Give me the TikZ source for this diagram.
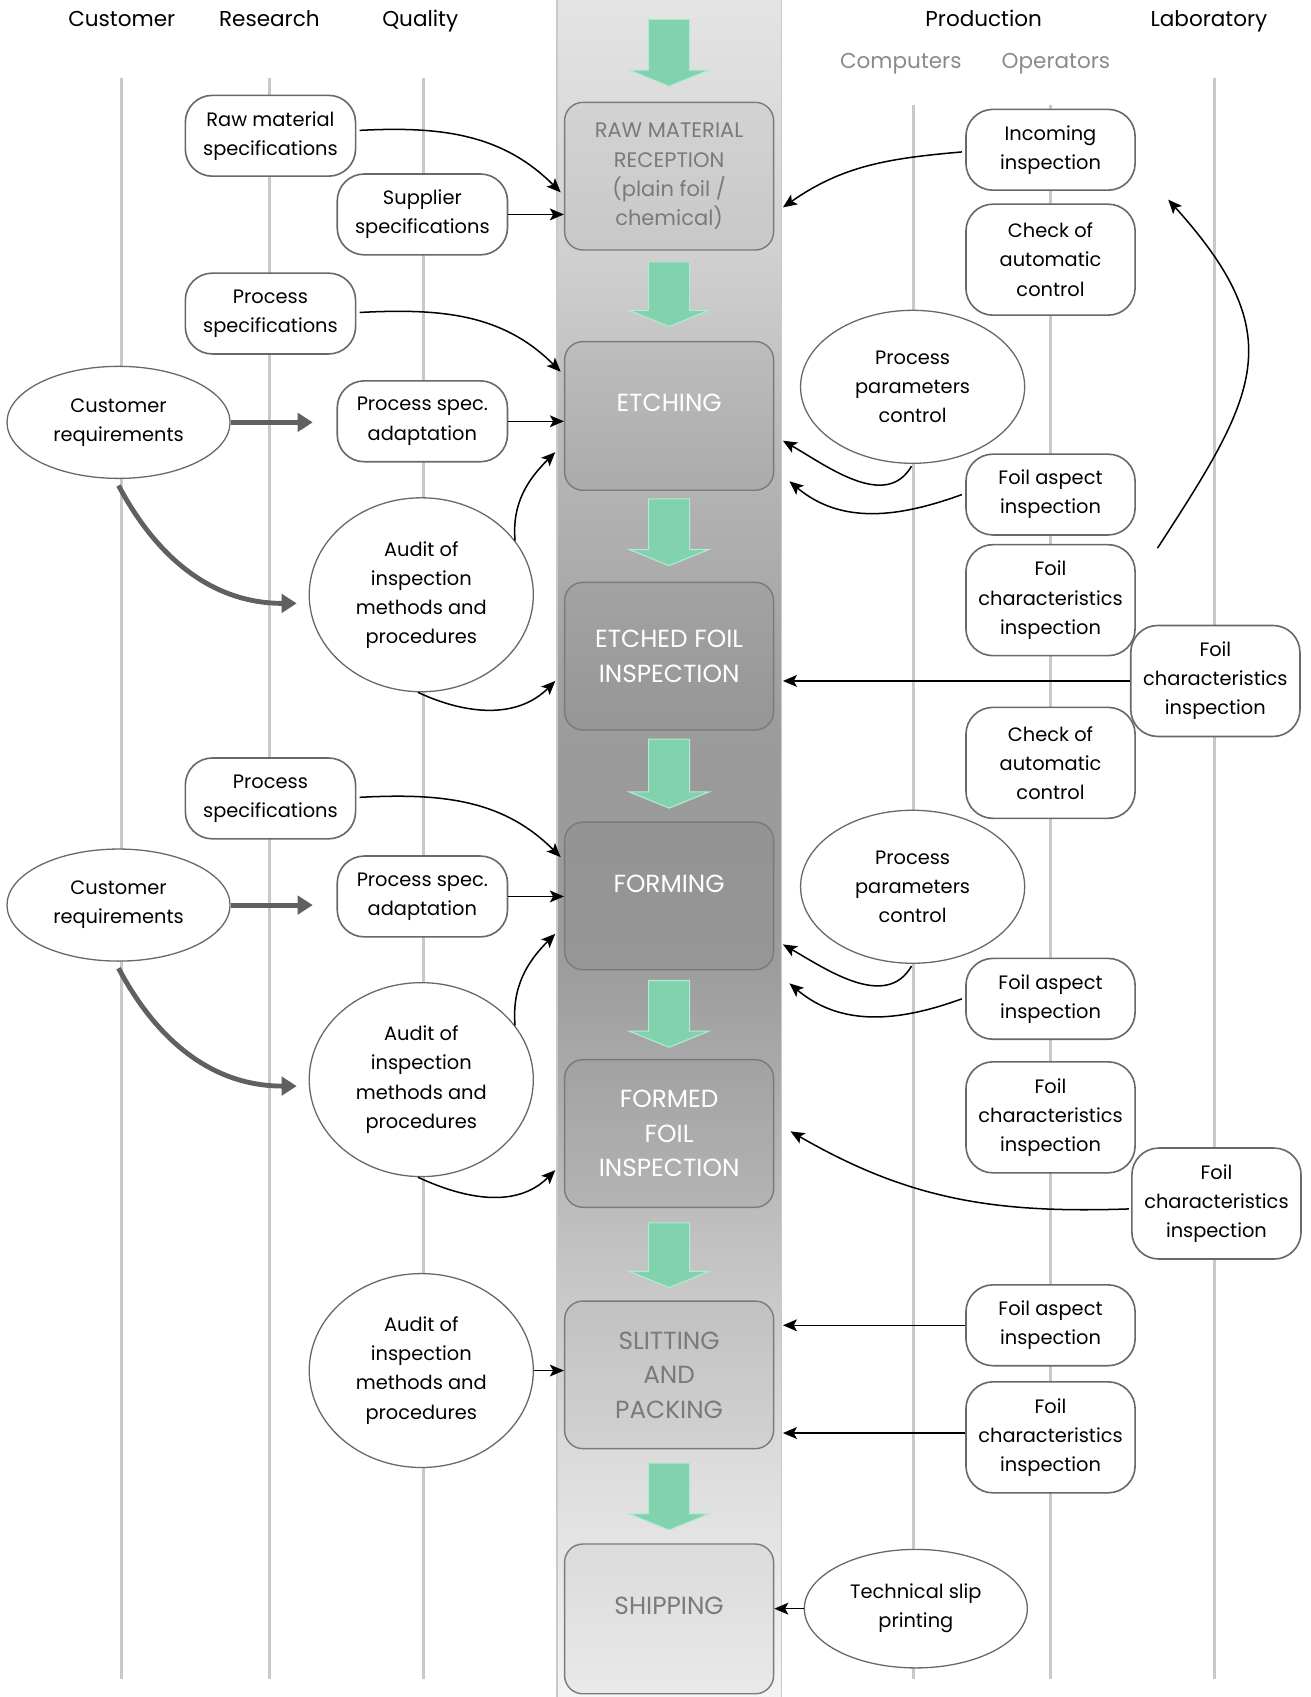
\documentclass[tikz,border=0pt]{standalone}
\usepackage{fontspec}
\setmainfont{Poppins}
\usetikzlibrary{shapes.geometric,arrows.meta,calc}
\definecolor{lanegray}{HTML}{C9C9C9}
\definecolor{edgegray}{HTML}{686868}
\definecolor{boxedge}{HTML}{7A7A7A}
\definecolor{flowgreen}{HTML}{80D3AE}
\definecolor{flowgreenedge}{HTML}{B4E9D0}
\definecolor{boxtext}{HTML}{7A7A7A}
\definecolor{thickgray}{HTML}{606060}
\definecolor{subhead}{HTML}{8A8A8A}
\definecolor{bandA}{HTML}{E4E4E4}
\definecolor{bandB}{HTML}{D1D1D1}
\definecolor{bandC}{HTML}{B3B3B3}
\definecolor{bandD}{HTML}{9A9A9A}
\definecolor{bandE}{HTML}{9D9D9D}
\definecolor{bandF}{HTML}{B3B3B3}
\definecolor{bandG}{HTML}{D3D3D3}
\definecolor{bandH}{HTML}{F4F4F4}
\pgfdeclareverticalshading{bandshade}{100bp}{color(0bp)=(bandH); color(25bp)=(bandH); color(34.5bp)=(bandG); color(41.5bp)=(bandF); color(46.3bp)=(bandE); color(52.7bp)=(bandD); color(60.6bp)=(bandC); color(67.7bp)=(bandB); color(75bp)=(bandA); color(100bp)=(bandA)}
\begin{document}
\begin{tikzpicture}[x=1pt,y=-1pt,
  lane/.style={draw=lanegray,line width=3pt},
  headtxt/.style={font=\fontsize{20}{24}\selectfont,text height=15pt,text depth=5pt,inner sep=0pt},
  subheadtxt/.style={headtxt,text=subhead},
  procbox/.style={draw=boxedge,line width=1.3pt,rounded corners=17pt,minimum width=194pt,fill=black,fill opacity=0.04,text opacity=1,align=center,inner sep=0pt},
  darktxt/.style={text=white,font=\fontsize{23}{32}\selectfont},
  lighttxt/.style={text=boxtext,font=\fontsize{23}{32}\selectfont},
  task/.style={draw=edgegray,line width=1.5pt,fill=white,rounded corners=25pt,minimum width=158pt,minimum height=75pt,align=center,inner sep=0pt,font=\fontsize{18}{27}\selectfont},
  tall/.style={minimum height=103pt},
  oval/.style={draw=edgegray,line width=1.2pt,fill=white,ellipse,align=center,inner sep=0pt,font=\fontsize{18}{27}\selectfont},
  flow/.style={draw=black,line width=1.4pt,-{Stealth[length=13pt,width=11pt,inset=3pt]}},
  req/.style={draw=thickgray,line width=4.5pt,-{Triangle[length=14pt,width=17pt]}},
  flowarrow/.style={fill=flowgreen,draw=flowgreenedge,line width=1pt}
]
\useasboundingbox (0,0) rectangle (1216,1575);

% lanes
\draw[lane] (113,72) -- (113,1558);
\draw[lane] (250,72) -- (250,1558);
\draw[lane] (393,72) -- (393,1558);
\draw[lane] (848,97) -- (848,1558);
\draw[lane] (975,97) -- (975,1558);
\draw[lane] (1127,72) -- (1127,1558);

% headers
\node[headtxt] (hcust) at (113,20) {Customer};
\node[headtxt] (hres) at (250,20) {Research};
\node[headtxt] (hqual) at (390,20) {Quality};
\node[headtxt] (hprod) at (913,20) {Production};
\node[headtxt] (hlab) at (1122,20) {Laboratory};
\node[subheadtxt] (hcomp) at (836,59) {Computers};
\node[subheadtxt] (hoper) at (980,59) {Operators};

% central band
\shade[shading=bandshade] (517,-2) rectangle (725,1577);
\draw[lanegray,line width=1.2pt] (517,-2) -- (517,1577) (725,-2) -- (725,1577);

% process boxes
\node[procbox,minimum height=137pt,text=boxtext,font=\fontsize{19.5}{27}\selectfont] (raw) at (621,163.5) {RAW MATERIAL\\RECEPTION\\(plain foil /\\chemical)};
\node[procbox,minimum height=138pt,darktxt,text depth=24pt] (etch) at (621,386) {ETCHING};
\node[procbox,minimum height=137pt,darktxt] (efi) at (621,609) {ETCHED FOIL\\INSPECTION};
\node[procbox,minimum height=137pt,darktxt,text depth=22pt] (forming) at (621,831.5) {FORMING};
\node[procbox,minimum height=137pt,darktxt] (formed) at (621,1052) {FORMED\\FOIL\\INSPECTION};
\node[procbox,minimum height=137pt,lighttxt] (slit) at (621,1276) {SLITTING\\AND\\PACKING};
\node[procbox,minimum height=139pt,lighttxt,text depth=25pt] (ship) at (621,1502.5) {SHIPPING};

% green flow arrows
\foreach \a/\b in {18/80, 243/303, 463/525, 686/750, 910/972, 1135/1195, 1358/1420}{
  \pgfmathsetmacro\c{\b-15}
  \path[flowarrow] (602,\a) -- (640,\a) -- (640,\c) -- (658,\c) -- (621,\b) -- (584,\c) -- (602,\c) -- cycle;
}

% left nodes
\node[task] (rawspec) at (251,126) {Raw material\\specifications};
\node[task] (supspec) at (392,199) {Supplier\\specifications};
\node[task] (procspec1) at (251,291) {Process\\specifications};
\node[task] (adapt1) at (392,391) {Process spec.\\adaptation};
\node[oval,minimum width=207pt,minimum height=104pt] (cust1) at (110,392) {Customer\\requirements};
\node[oval,minimum width=208pt,minimum height=180pt] (audit1) at (391,552) {Audit of\\inspection\\methods and\\procedures};
\node[task] (procspec2) at (251,741) {Process\\specifications};
\node[task] (adapt2) at (392,832) {Process spec.\\adaptation};
\node[oval,minimum width=207pt,minimum height=104pt] (cust2) at (110,840) {Customer\\requirements};
\node[oval,minimum width=208pt,minimum height=180pt] (audit2) at (391,1002) {Audit of\\inspection\\methods and\\procedures};
\node[oval,minimum width=208pt,minimum height=180pt] (audit3) at (391,1272) {Audit of\\inspection\\methods and\\procedures};

% right nodes
\node[task,minimum width=157pt] (incoming) at (975,139) {Incoming\\inspection};
\node[task,tall,minimum width=157pt] (check1) at (975,241) {Check of\\automatic\\control};
\node[oval,minimum width=208pt,minimum height=142pt] (ppc1) at (847,359) {Process\\parameters\\control};
\node[task,minimum width=157pt] (asp1) at (975,459) {Foil aspect\\inspection};
\node[task,tall,minimum width=157pt] (char1) at (975,557) {Foil\\characteristics\\inspection};
\node[task,tall,minimum width=157pt] (lab1) at (1128,632) {Foil\\characteristics\\inspection};
\node[task,tall,minimum width=157pt] (check2) at (975,708) {Check of\\automatic\\control};
\node[oval,minimum width=208pt,minimum height=142pt] (ppc2) at (847,823) {Process\\parameters\\control};
\node[task,minimum width=157pt] (asp2) at (975,927) {Foil aspect\\inspection};
\node[task,tall,minimum width=157pt] (char2) at (975,1037) {Foil\\characteristics\\inspection};
\node[task,tall,minimum width=157pt] (lab2) at (1129,1117) {Foil\\characteristics\\inspection};
\node[task,minimum width=157pt] (asp3) at (975,1230) {Foil aspect\\inspection};
\node[task,tall,minimum width=157pt] (char3) at (975,1334) {Foil\\characteristics\\inspection};
\node[oval,minimum width=207pt,minimum height=110pt] (tslip) at (850,1493) {Technical slip\\printing};

% connectors, group 1
\draw[flow] ($(rawspec.east)+(3,-5)$) to[out=3,in=135] ($(raw.west)+(-3,15)$);
\draw[flow] (supspec.east) -- (supspec.east -| raw.west);
\draw[flow] ($(incoming.west)+(-3,2)$) to[out=185,in=35] ($(raw.east)+(8,29)$);
\draw[flow] ($(procspec1.east)+(3,-1)$) to[out=3,in=135] ($(etch.west)+(-3,-41)$);
\draw[flow] (adapt1.east) -- (adapt1.east -| etch.west);
\draw[flow] (audit1.30) to[out=95,in=225] ($(etch.south west)+(-8,-36)$);
\draw[flow] (audit1.-92) to[out=-25,in=225] ($(efi.west)+(-8,23)$);
\draw[req,shorten >=22pt] (cust1.east) -- (cust1.east -| adapt1.west);
\draw[req] ($(cust1.south)+(0,6)$) to[out=-62,in=180] ($(audit1.west)+(-11,8)$);
\draw[flow] ($(ppc1.south)+(-1,2)$) to[out=-120,in=-30] ($(etch.east)+(8,23)$);
\draw[flow] ($(asp1.west)+(-3,0)$) to[out=200,in=-40] ($(etch.south east)+(14,-9)$);
\draw[flow,shorten >=8pt] (lab1.west) -- (lab1.west -| efi.east);
\draw[flow] ($(char1.north east)+(20,4)$) to[out=57,in=-48,looseness=1.35] ($(incoming.south east)+(30,8)$);

% connectors, group 2
\draw[flow] ($(procspec2.east)+(3,-1)$) to[out=3,in=135] ($(forming.west)+(-3,-36)$);
\draw[flow] (adapt2.east) -- (adapt2.east -| forming.west);
\draw[flow] (audit2.30) to[out=95,in=225] ($(forming.south west)+(-8,-34)$);
\draw[flow] (audit2.-92) to[out=-25,in=225] ($(formed.west)+(-8,34)$);
\draw[req,shorten >=22pt] (cust2.east) -- (cust2.east -| adapt2.west);
\draw[req] ($(cust2.south)+(0,6)$) to[out=-62,in=180] ($(audit2.west)+(-11,6)$);
\draw[flow] ($(ppc2.south)+(-1,2)$) to[out=-120,in=-30] ($(forming.east)+(8,45)$);
\draw[flow] ($(asp2.west)+(-3,0)$) to[out=200,in=-40] ($(forming.south east)+(14,12)$);
\draw[flow] ($(lab2.west)+(-2,5)$) to[out=182,in=-30] ($(formed.east)+(15,-2)$);

% connectors, group 3
\draw[flow] (audit3.east) -- (audit3.east -| slit.west);
\draw[flow,shorten >=8pt] (asp3.west) -- (asp3.west -| slit.east);
\draw[flow,shorten >=8pt] ($(char3.west)+(0,-4)$) -- ($(char3.west -| slit.east)+(0,-4)$);
\draw[flow] (tslip.west) -- (tslip.west -| ship.east);
\end{tikzpicture}
\end{document}
